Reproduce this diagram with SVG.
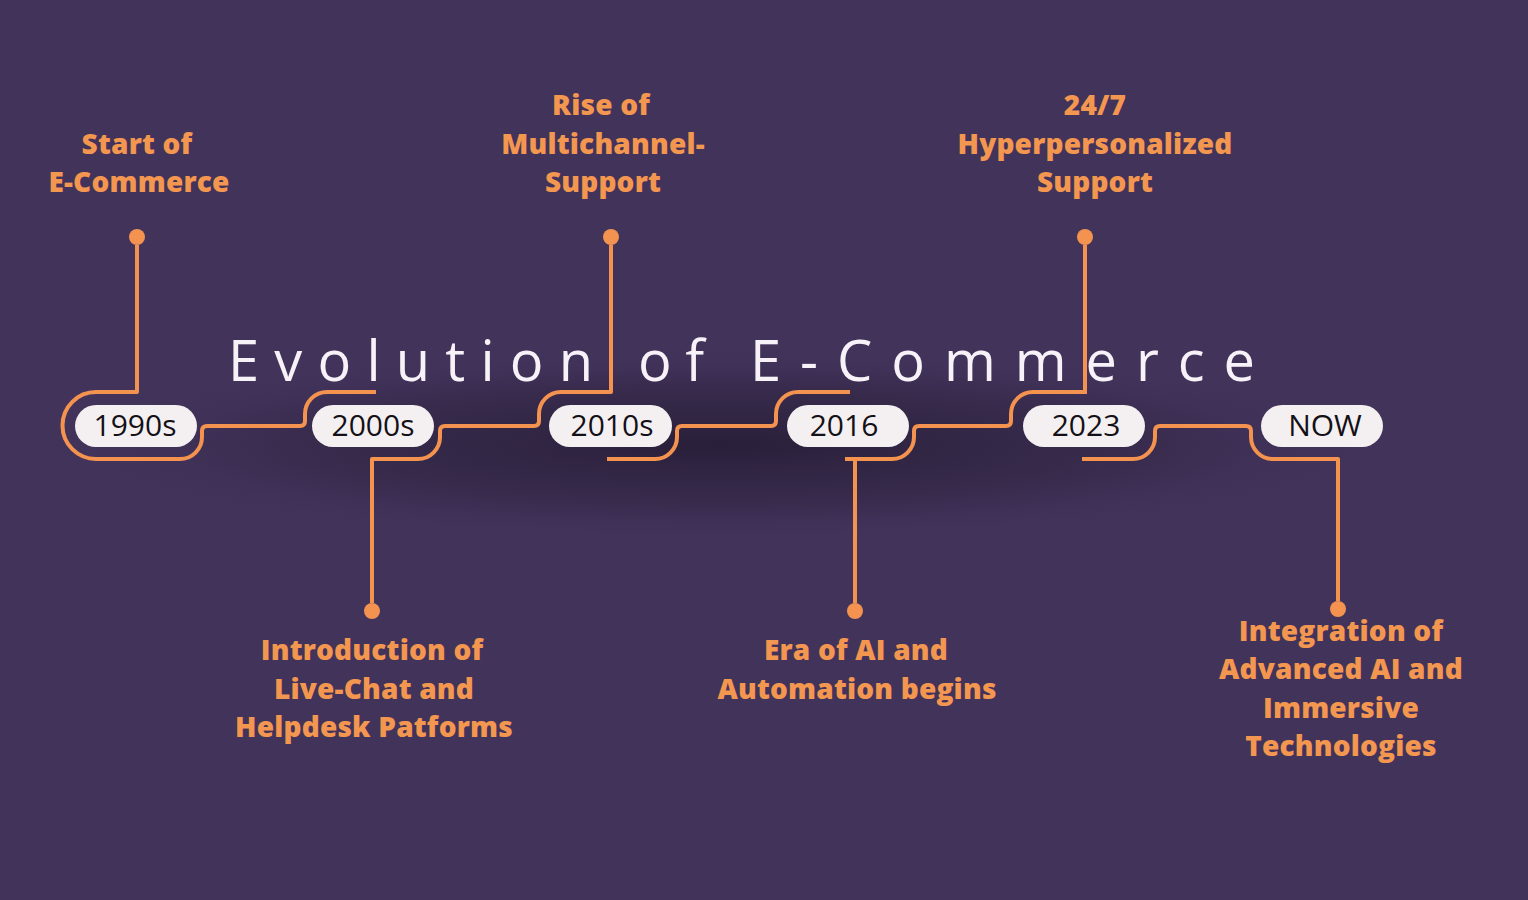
<svg xmlns="http://www.w3.org/2000/svg" width="1528" height="900" viewBox="0 0 1528 900">
  <defs>
    <radialGradient id="glow" cx="0.5" cy="0.5" r="0.5">
      <stop offset="0" stop-color="#231a31" stop-opacity="0.8"/>
      <stop offset="0.6" stop-color="#2a2039" stop-opacity="0.4"/>
      <stop offset="1" stop-color="#42335b" stop-opacity="0"/>
    </radialGradient>
    <style>
      .ln { fill: none; stroke: #f4934f; stroke-width: 4; stroke-linecap: butt; stroke-linejoin: round; }
      .dot { fill: #f4934f; }
      .pill { fill: #f4f0f1; }
      .yr { font-family: "Open Sans", "Liberation Sans", sans-serif; font-size: 30px; fill: #141018; text-anchor: middle; }
      .lbl { font-family: "Open Sans", "Liberation Sans", sans-serif; font-weight: 800; font-size: 28px; letter-spacing: 0.2px; fill: #f3964f; text-anchor: middle; }
      .title { font-family: "Open Sans", "Liberation Sans", sans-serif; font-weight: 400; font-size: 56px; fill: #f7f1f8; }
    </style>
  </defs>
  <rect width="1528" height="900" fill="#42335b"/>
  <ellipse cx="720" cy="445" rx="700" ry="100" fill="url(#glow)"/>

  <text class="title" y="381"><tspan x="228" textLength="365" lengthAdjust="spacing">Evolution</tspan><tspan x="638" textLength="66" lengthAdjust="spacing">of</tspan><tspan x="750" textLength="505" lengthAdjust="spacing">E-Commerce</tspan></text>

  <g id="connectors">
    <path class="ln" d="M137 245 V392 H96 A33.5 33.5 0 0 0 96 459 H180 A22 22 0 0 0 202 437 V431 Q202 426 207 426 H300 Q305 426 305 421 V414 A22 22 0 0 1 327 392 H376"/>
    <path class="ln" d="M372 603 V459 H418 A22 22 0 0 0 440 437 V431 Q440 426 445 426 H534 Q539 426 539 421 V414 A22 22 0 0 1 561 392 H611 V245"/>
    <path class="ln" d="M607 459 H655 A22 22 0 0 0 677 437 V431 Q677 426 682 426 H771 Q776 426 776 421 V414 A22 22 0 0 1 798 392 H850"/>
    <path class="ln" d="M845 459 H892 A22 22 0 0 0 914 437 V431 Q914 426 919 426 H1006 Q1011 426 1011 421 V414 A22 22 0 0 1 1033 392 H1087"/>
    <path class="ln" d="M855 459 V603"/>
    <path class="ln" d="M1085 392 V245"/>
    <path class="ln" d="M1082 459 H1133 A22 22 0 0 0 1155 437 V431 Q1155 426 1160 426 H1246 Q1251 426 1251 431 V437 A22 22 0 0 0 1273 459 H1338 V601"/>
  </g>

  <g id="n1990s">
    <circle class="dot" cx="137" cy="237" r="8"/>
    <rect class="pill" x="75" y="405" width="122" height="42" rx="21"/>
    <text class="yr" x="135" y="436">1990s</text>
    <text class="lbl" x="137" y="154">Start of</text>
    <text class="lbl" x="139" y="192">E-Commerce</text>
  </g>
  <g id="n2000s">
    <circle class="dot" cx="372" cy="611" r="8"/>
    <rect class="pill" x="312" y="405" width="122" height="42" rx="21"/>
    <text class="yr" x="373" y="436">2000s</text>
    <text class="lbl" x="372" y="660">Introduction of</text>
    <text class="lbl" x="374" y="699">Live-Chat and</text>
    <text class="lbl" x="374" y="737">Helpdesk Patforms</text>
  </g>
  <g id="n2010s">
    <circle class="dot" cx="611" cy="237" r="8"/>
    <rect class="pill" x="549" y="405" width="123" height="42" rx="21"/>
    <text class="yr" x="612" y="436">2010s</text>
    <text class="lbl" x="601" y="115">Rise of</text>
    <text class="lbl" x="603" y="154">Multichannel-</text>
    <text class="lbl" x="603" y="192">Support</text>
  </g>
  <g id="n2016">
    <circle class="dot" cx="855" cy="611" r="8"/>
    <rect class="pill" x="787" y="405" width="122" height="42" rx="21"/>
    <text class="yr" x="844" y="436">2016</text>
    <text class="lbl" x="856" y="660">Era of AI and</text>
    <text class="lbl" x="857" y="699">Automation begins</text>
  </g>
  <g id="n2023">
    <circle class="dot" cx="1085" cy="237" r="8"/>
    <rect class="pill" x="1023" y="405" width="122" height="42" rx="21"/>
    <text class="yr" x="1086" y="436">2023</text>
    <text class="lbl" x="1095" y="115">24/7</text>
    <text class="lbl" x="1095" y="154">Hyperpersonalized</text>
    <text class="lbl" x="1095" y="192">Support</text>
  </g>
  <g id="nNOW">
    <circle class="dot" cx="1338" cy="609" r="8"/>
    <rect class="pill" x="1261" y="405" width="122" height="42" rx="21"/>
    <text class="yr" x="1325" y="436">NOW</text>
    <text class="lbl" x="1341" y="641">Integration of</text>
    <text class="lbl" x="1341" y="679">Advanced AI and</text>
    <text class="lbl" x="1341" y="718">Immersive</text>
    <text class="lbl" x="1341" y="756">Technologies</text>
  </g>
</svg>
